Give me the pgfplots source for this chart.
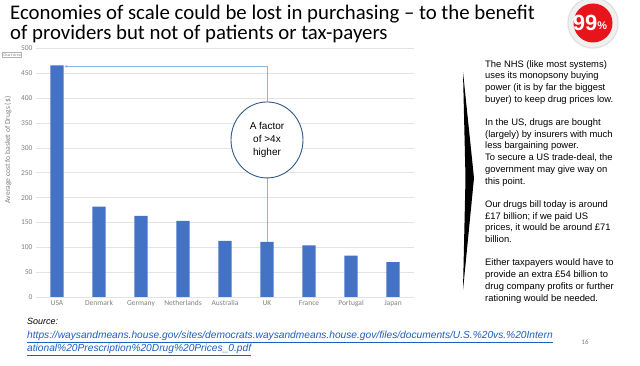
\documentclass[border=0pt]{standalone}
\usepackage{pgfplots}
\pgfplotsset{compat=1.18}
\usepackage{fontspec}
\setmainfont{Carlito}
\newfontfamily\arial{Liberation Sans}
\usetikzlibrary{arrows.meta}
\definecolor{barblue}{HTML}{4472C4}
\definecolor{annot}{HTML}{8FB3DC}
\definecolor{circ}{HTML}{2E5C8A}
\definecolor{tickgray}{HTML}{808080}
\definecolor{urlblue}{HTML}{1F5FBF}
\definecolor{logored}{HTML}{E8141B}
\begin{document}
\begin{tikzpicture}[x=1pt,y=1pt]
\path[use as bounding box, fill=white] (0,0) rectangle (640,366);
% title
\node[anchor=base west, inner sep=0, font=\fontsize{20.8}{24}\selectfont] at (10,346) {Economies of scale could be lost in purchasing -- to the benefit};
\node[anchor=base west, inner sep=0, font=\fontsize{20.8}{24}\selectfont] at (10,326) {of providers but not of patients or tax-payers};
% logo
\fill[gray!12] (593,343) circle (26);
\draw[gray!35, line width=0.4pt] (593,343) circle (25);
\fill[logored] (593,343) circle (19.5);
\node[text=white, font=\arial\bfseries\fontsize{22}{22}\selectfont, inner sep=0] at (590,343) {99\raisebox{1pt}{\fontsize{11}{11}\selectfont\%}};
% axis
\begin{axis}[
  at={(36pt,69pt)}, anchor=south west,
  scale only axis, width=378pt, height=248.5pt,
  xmin=-0.5, xmax=8.5, ymin=0, ymax=500,
  ytick={0,50,...,500},
  xtick={0,...,8},
  xticklabels={USA,Denmark,Germany,Netherlands,Australia,UK,France,Portugal,Japan},
  axis line style={draw=none},
  major tick style={draw=none},
  ymajorgrids, major grid style={color=gray!22, line width=0.6pt},
  ticklabel style={font=\fontsize{7.5}{8}\selectfont, text=tickgray},
  /pgf/number format/assume math mode=true,
  clip=false,
]
\addplot[ybar, bar width=13.3pt, fill=barblue, draw=none] coordinates {(0,466) (1,182) (2,163) (3,153) (4,113) (5,111) (6,104) (7,83) (8,70)};
\draw[annot, line width=0.8pt, {Latex[length=3pt,width=3pt]}-] (axis cs:0.17,464) -- (axis cs:5,464) -- (axis cs:5,111);
\draw[circ, line width=0.9pt, fill=white] (axis cs:5,316) ellipse [x radius=36pt, y radius=38pt];
\node[align=center, font=\arial\fontsize{10}{13.2}\selectfont] at (axis cs:5,316) {A factor\\of >4x\\higher};
\end{axis}
% y label
\node[rotate=90, font=\fontsize{7.6}{8}\selectfont, text=tickgray] at (8,216) {Average cost fo basket of Drugs (\$)};
% chart area tooltip
\node[draw=gray!60, fill=white, inner sep=1pt, font=\fontsize{4}{4}\selectfont, text=gray] at (12,311) {Chart Area};
% chevron
\fill[black] (463,294) -- (474,188) -- (463,76) -- (465.5,188) -- cycle;
% right text
\node[anchor=north west, align=left, inner sep=0, font=\arial\fontsize{9.4}{11.7}\selectfont] at (485,306) {%
The NHS (like most systems)\\
uses its monopsony buying\\
power (it is by far the biggest\\
buyer) to keep drug prices low.\\[11.7pt]
In the US, drugs are bought\\
(largely) by insurers with much\\
less bargaining power.\\
To secure a US trade-deal, the\\
government may give way on\\
this point.\\[11.7pt]
Our drugs bill today is around\\
\pounds17 billion; if we paid US\\
prices, it would be around \pounds71\\
billion.\\[11.7pt]
Either taxpayers would have to\\
provide an extra \pounds54 billion to\\
drug company profits or further\\
rationing would be needed.};
% source
\node[anchor=base west, inner sep=0, font=\arial\itshape\fontsize{9}{10}\selectfont] at (27,41) {Source:};
\node[anchor=base west, inner sep=0, font=\arial\itshape\fontsize{10.2}{11}\selectfont, text=urlblue] at (27,27) {\underline{https://waysandmeans.house.gov/sites/democrats.waysandmeans.house.gov/files/documents/U.S.\%20vs.\%20Intern}};
\node[anchor=base west, inner sep=0, font=\arial\itshape\fontsize{10.2}{11}\selectfont, text=urlblue] at (27,14) {\underline{ational\%20Prescription\%20Drug\%20Prices\_0.pdf}};
\node[font=\fontsize{7}{8}\selectfont, text=tickgray] at (585,24) {16};
\end{tikzpicture}
\end{document}
